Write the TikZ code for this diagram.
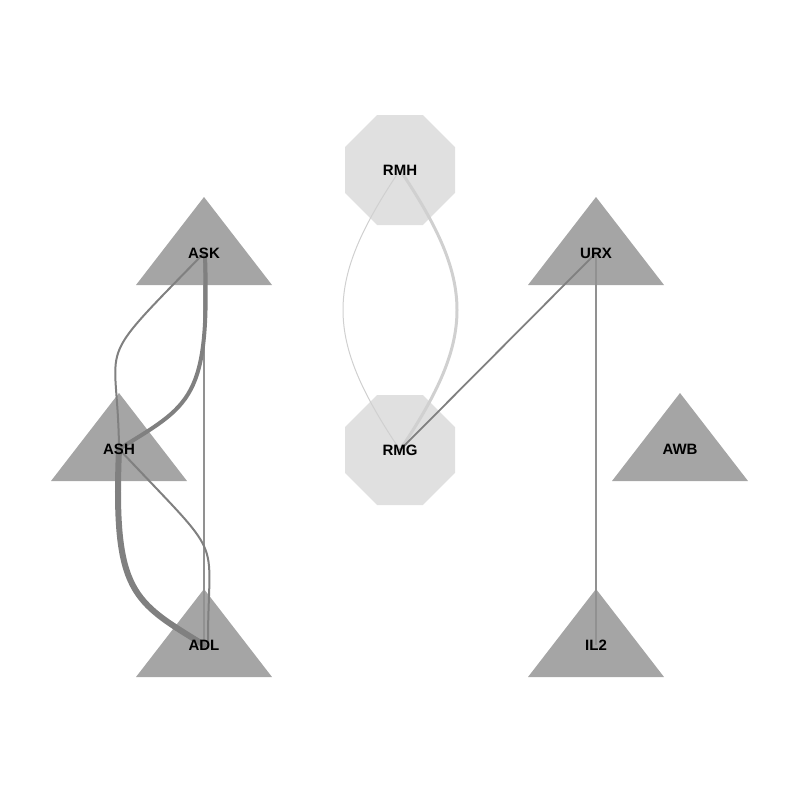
\documentclass[tikz,border=0pt]{standalone}
\usepackage{fontspec}
\setmainfont{Liberation Sans}
\begin{document}
\begin{tikzpicture}[x=1pt,y=-1pt,
  lbl/.style={font=\fontsize{15}{18}\selectfont\bfseries, text=black, inner sep=0pt},
  trifill/.style={fill=triGray},
  octfill/.style={fill=octGray},
  link/.style={draw=edgeGray, line cap=round},
  softlink/.style={draw=softGray, line cap=round}]
\definecolor{triGray}{RGB}{165,165,165}
\definecolor{octGray}{RGB}{224,224,224}
\definecolor{edgeGray}{RGB}{128,128,128}
\definecolor{thinGray}{RGB}{145,145,145}
\definecolor{softGray}{RGB}{208,208,208}
\useasboundingbox (0,0) rectangle (800,800);

% node anchors (label centres)
\coordinate (ASK) at (204,253);
\coordinate (ASH) at (119,449);
\coordinate (ADL) at (204,645);
\coordinate (URX) at (596,253);
\coordinate (AWB) at (680,449);
\coordinate (IL2) at (596,645);
\coordinate (RMH) at (400,170);
\coordinate (RMG) at (400,450);

% triangles
\foreach \n in {ASK,ASH,ADL,URX,AWB,IL2}
  \fill[trifill] (\n) +(0,-56) -- +(68,32) -- +(-68,32) -- cycle;
% octagons
\foreach \n in {RMH,RMG}
  \fill[octfill] (\n) +(-22.8,-55) -- +(22.8,-55) -- +(55,-22.8) -- +(55,22.8)
    -- +(22.8,55) -- +(-22.8,55) -- +(-55,22.8) -- +(-55,-22.8) -- cycle;

% connectors
\draw[softlink, line width=1pt] (RMH) .. controls (324,283) and (324,337) .. (RMG);
\draw[softlink, line width=3pt] (RMH) .. controls (476,283) and (476,337) .. (RMG);
\draw[link, line width=1.8pt] (RMG) -- (URX);
\draw[draw=thinGray, line width=1.5pt] (URX) -- (IL2);
\draw[draw=thinGray, line width=1.1pt] (ASK) -- (ADL);
\draw[link, line width=2pt] (ASK) .. controls (90,370) and (118,335) .. (ASH);
\draw[link, line width=4pt] (205,255) .. controls (210,400) and (190,405) .. (ASH);
\draw[link, line width=6pt] (ASH) .. controls (113,594) and (133,601) .. (ADL);
\draw[link, line width=2pt] (ASH) .. controls (228,565) and (208,530) .. (208,642);

% labels
\foreach \n in {ASK,ASH,ADL,URX,AWB,IL2,RMH,RMG}
  \node[lbl] (\n-label) at (\n) {\n};
\end{tikzpicture}
\end{document}
